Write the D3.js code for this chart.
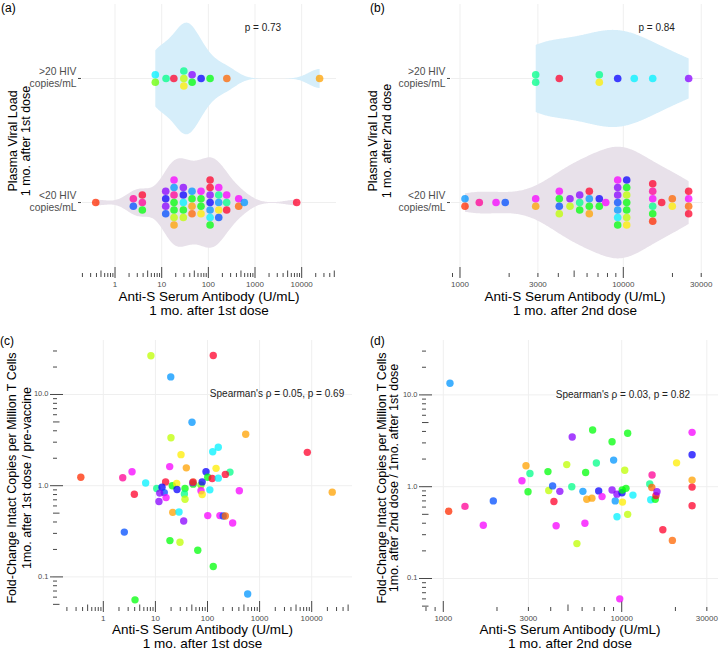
<!DOCTYPE html>
<html><head><meta charset="utf-8">
<script src="https://cdn.jsdelivr.net/npm/d3@7"></script>
<style>body{margin:0;background:#fff}svg{display:block}</style>
</head><body><svg id="chart" width="720" height="652"></svg>
<script>
// ---------- DATA ----------
const groups = [">20 HIV|copies/mL", "<20 HIV|copies/mL"];
const breaksDose1 = [1, 10, 100, 1000, 10000];
const breaksDose2 = [1000, 3000, 10000, 30000];
const breaksFold = [0.1, 1, 10];
const foldLabels = ["0.1", "1.0", "10.0"];

// participant colour codes
const hueOf = {R:350, OR:10, O:24, YO:38, Y:56, YG:75, LG:95, G:122, T:152, C:183, S:205, B:222, I:242, P:272, M:298, K:325};

// (a) antibody after 1st dose, by viral load group
const aHighVals = [7.3,7.3,12.4,18.2,29.8,29.8,29.8,44.9,44.9,70,109,249,24200];
const aHighWho  = ["C","LG","T","R","T","YG","Y","P","G","I","G","O","YO"];
const aLowVals = [0.386, 2.47,2.47, 3.85,3.85,3.85, 12.2,12.2,12.2,12.2,
  18.4,18.4,18.4,18.4,18.4,18.4,18.4, 29.1,29.1,29.1,29.1,29.1,
  44.7,44.7,44.7,44.7, 69.6,69.6,69.6,69.6, 109,109,109,109,109,109,109,
  167,167,167,167,167, 247,247,247, 447,447, 590, 7820];
const aLowWho = ["OR", "K","B", "R","K","G", "P","I","P","B",
  "M","S","K","G","G","YG","YO", "P","I","C","G","YG",
  "S","G","YO","O", "M","G","G","Y", "R","R","P","I","S","C","G",
  "M","T","S","Y","B", "M","T","R", "M","O", "S", "R"];

// (b) antibody after 2nd dose, by viral load group
const bHighVals = [2908,2908,4056,7129,7129,9240,11670,15140,25130];
const bHighWho  = ["T","T","R","T","Y","I","C","C","P"];
const bLowVals = [1073,1073, 1313, 1662, 1893, 2908,2908, 4056,4056,4056,4056,
  4716,4716, 5407,5407,5407, 6193,6193,6193,6193, 7129,7129, 7805,
  9240,9240,9240,9240,9240,9240,9240, 10490,10490,10490,10490,10490,10490,10490,
  15140,15140,15140,15140,15140,15140, 17180, 19950,19950, 25130,25130,25130,25130];
const bLowWho = ["S","OR", "K", "M", "B", "M","YO", "M","G","B","YG",
  "P","YG", "P","T","G", "R","S","G","YO", "I","G", "M",
  "M","P","P","B","S","C","G", "I","G","YG","G","G","YG","Y",
  "R","K","M","T","G","OR", "R", "O","Y", "R","M","O","R"];

// relative violin widths (widest = 1)
const violinWidthA = [1.0, 0.81];
const violinWidthB = [0.87, 1.0];

// (c) fold change vs antibody after 1st dose
const cAnti = [8.2,129,19.7,50.4,19.9,541,161,126,8240,31,18.8,39.2,3.56,93.6,146,270,220,0.37,2.36,6.5,
  15.7,3.94,10.6,13.4,14.8,12.1,11.7,16,21.1,25.6,26,37,36,37,53,52,53,75,79,75,
  79,101,123,111,161,408,24800,21.5,28.4,34.9,101,173,200,220,304,2.53,19.0,29.6,65,129,4.06,590];
const cFold = [26.6,26.8,15.6,4.96,3.36,3.66,2.64,2.36,2.32,2.19,1.62,1.57,1.42,1.42,1.55,1.41,1.33,1.24,1.22,1.07,
  1.1,0.805,0.93,0.96,0.84,0.83,0.67,0.74,1.0,1.06,0.91,0.93,0.81,0.71,1.04,1.08,1.1,1.02,1.1,0.88,
  0.8,1.24,1.2,0.9,1.21,0.88,0.85,0.51,0.515,0.41,0.47,0.47,0.465,0.465,0.39,0.31,0.25,0.24,0.196,0.13,0.056,0.065];
const cWho = ["YG","R","S","S","YG","YO","C","C","R","Y","M","YO","M","I","Y","T","R","OR","K","C",
  "R","R","T","I","B","P","P","M","G","Y","I","G","T","YG","G","P","OR","LG","I","M",
  "Y","G","R","C","C","M","YO","YO","C","P","M","M","B","O","M","B","G","YG","G","G","G","S"];

// (d) fold change vs antibody after 2nd dose
const dAnti = [1090,5280,6870,8830,10800,24800,24800,20300,9010,7210,4920,2908,3060,3860,6280,10400,14800,24800,2760,
  1072,1323,1676,1907,2985,3900,4100,4170,4500,4290,5250,5610,6060,6220,6370,6810,7430,7760,8830,9200,
  9410,9410,10040,10100,10070,10570,10800,11560,9750,14360,14750,14540,15420,15560,15760,17000,19230,24800,24800];
const dFold = [13.4,3.48,4.15,3.09,3.82,3.91,2.23,1.82,1.95,1.81,1.74,1.69,1.39,1.46,1.43,1.51,1.34,1.18,1.16,
  0.54,0.61,0.38,0.70,0.88,0.91,1.02,0.69,0.89,0.376,1.0,0.24,0.89,0.40,0.73,0.75,0.9,0.78,0.92,0.70,
  0.83,0.47,0.86,0.68,0.92,0.96,0.50,0.81,0.06,1.07,0.98,0.72,0.73,0.80,0.88,0.34,0.26,0.99,0.62];
const dWho = ["S","P","G","G","G","M","I","Y","S","T","YG","YO","T","G","G","YG","K","YO","M",
  "OR","K","M","B","G","YG","B","R","P","M","T","YG","S","M","YO","YO","I","M","P","S",
  "P","C","I","Y","G","G","YG","C","M","T","O","C","G","R","P","R","O","R","R"];

const pTextA = "p = 0.73", pTextB = "p = 0.84";
const rhoC = "Spearman's \u03c1 = 0.05, p = 0.69";
const rhoD = "Spearman's \u03c1 = 0.03, p = 0.82";

// ---------- HELPERS ----------
const FONT = '"Liberation Sans", Arial, Helvetica, sans-serif';
const GRID = "#EFEFEF", TXT = "#4D4D4D", TICK = "#333";
const svg = d3.select("#chart").style("font-family", FONT);
const colour = k => d3.hsl(hueOf[k], 1, 0.5).formatHex();

function logTickList(scale) {
  const [d0, d1] = scale.domain(), out = [];
  for (let k = Math.floor(Math.log10(d0)); k <= Math.ceil(Math.log10(d1)); k++)
    for (let m = 1; m <= 9; m++) {
      const v = m * Math.pow(10, k);
      if (v >= d0 && v <= d1) out.push({v, m});
    }
  return out;
}
const tickLen = m => m === 1 ? 10 : (m === 5 ? 6.5 : 4);

function bottomLogAxis(g, x, top, bottom, breaks) {
  g.selectAll(null).data(breaks).join("line")
    .attr("x1", d => x(d)).attr("x2", d => x(d)).attr("y1", top).attr("y2", bottom)
    .attr("stroke", GRID).attr("stroke-width", 1);
  g.selectAll(null).data(logTickList(x)).join("line")
    .attr("x1", d => x(d.v)).attr("x2", d => x(d.v))
    .attr("y1", d => bottom + (d.m === 1 ? 1 : 0)).attr("y2", d => bottom - tickLen(d.m))
    .attr("stroke", TICK).attr("stroke-width", 0.9);
  g.selectAll(null).data(breaks).join("text")
    .attr("x", d => x(d)).attr("y", bottom + 7.5)
    .attr("text-anchor", "middle").attr("dominant-baseline", "middle")
    .attr("font-size", 8).attr("fill", TXT).text(d => d);
}
function leftLogAxis(g, y, left, right, breaks, labels) {
  g.selectAll(null).data(breaks).join("line")
    .attr("y1", d => y(d)).attr("y2", d => y(d)).attr("x1", left).attr("x2", right)
    .attr("stroke", GRID).attr("stroke-width", 1);
  g.selectAll(null).data(logTickList(y)).join("line")
    .attr("y1", d => y(d.v)).attr("y2", d => y(d.v))
    .attr("x1", d => left - (d.m === 1 ? 3 : 0)).attr("x2", d => left + tickLen(d.m))
    .attr("stroke", TICK).attr("stroke-width", 0.9);
  g.selectAll(null).data(breaks).join("text")
    .attr("x", left - 4.5).attr("y", d => y(d))
    .attr("text-anchor", "end").attr("dominant-baseline", "middle")
    .attr("font-size", 7.5).attr("fill", TXT).text((d, i) => labels[i]);
}
function catAxis(g, y, left, right) {
  groups.forEach(gr => {
    const yc = y(gr);
    g.append("line").attr("x1", left).attr("x2", right).attr("y1", yc).attr("y2", yc)
      .attr("stroke", GRID).attr("stroke-width", 1);
    g.append("line").attr("x1", left - 4).attr("x2", left - 1).attr("y1", yc).attr("y2", yc)
      .attr("stroke", TICK).attr("stroke-width", 0.9);
    const parts = gr.split("|");
    parts.forEach((p, i) => g.append("text").attr("x", left - 5.5).attr("y", yc + (i - 0.5) * 12)
      .attr("text-anchor", "end").attr("dominant-baseline", "middle")
      .attr("font-size", 10.3).attr("fill", TXT).text(p));
  });
}
function xTitle(lines, cx, y0) {
  lines.forEach((t, i) => svg.append("text").attr("x", cx).attr("y", y0 + i * 14.5)
    .attr("text-anchor", "middle").attr("dominant-baseline", "middle")
    .attr("font-size", 13.5).attr("fill", "#000").text(t));
}
function yTitle(lines, xs, cy) {
  lines.forEach((t, i) => svg.append("text").attr("transform", `translate(${xs[i]},${cy}) rotate(-90)`)
    .attr("text-anchor", "middle").attr("dominant-baseline", "middle")
    .attr("font-size", 12.5).attr("fill", "#000").text(t));
}
function panelLabel(t, x, y) {
  svg.append("text").attr("x", x).attr("y", y).attr("dominant-baseline", "middle")
    .attr("font-size", 12).attr("fill", "#000").text(t);
}
function nrd0(v) {
  const s = d3.deviation(v), sorted = v.slice().sort(d3.ascending);
  const iqr = d3.quantileSorted(sorted, 0.75) - d3.quantileSorted(sorted, 0.25);
  let lo = Math.min(s, iqr / 1.34);
  if (!(lo > 0)) lo = s || 1;
  return 0.9 * lo * Math.pow(v.length, -0.2);
}
function densityCurve(vals) {
  const lv = vals.map(Math.log10), h = nrd0(lv), n = lv.length;
  const lo = d3.min(lv), hi = d3.max(lv);
  return d3.range(201).map(i => {
    const t = lo + (hi - lo) * i / 200;
    const d = d3.sum(lv, xi => Math.exp(-0.5 * ((t - xi) / h) ** 2)) / (n * h * Math.sqrt(2 * Math.PI));
    return {t, d};
  });
}
function stackDots(vals, who) {
  const m = new Map();
  vals.forEach((v, i) => { if (!m.has(v)) m.set(v, []); m.get(v).push(i); });
  const pts = [];
  m.forEach((idx, v) => idx.forEach((i, j) => pts.push({v, who: who[i], off: j - (idx.length - 1) / 2})));
  return pts;
}
function violinPanel(x, y, left, right, top, bottom, sets, fills, widths, breaks) {
  const g = svg.append("g");
  bottomLogAxis(g, x, top, bottom, breaks);
  catAxis(g, y, left, right);
  const curves = sets.map(s => densityCurve(s[0]));
  const half = 0.45 * y.step();
  curves.forEach((c, gi) => {
    const yc = y(groups[gi]);
    const maxD = d3.max(c, p => p.d);
    const w = half * widths[gi];
    const area = d3.area().x(p => x(Math.pow(10, p.t)))
      .y0(p => yc - w * p.d / maxD).y1(p => yc + w * p.d / maxD);
    g.append("path").attr("d", area(c)).attr("fill", fills[gi]);
  });
  sets.forEach((s, gi) => {
    const yc = y(groups[gi]);
    g.selectAll(null).data(stackDots(s[0], s[1])).join("circle")
      .attr("cx", d => x(d.v)).attr("cy", d => yc + d.off * 7.5).attr("r", 3.8)
      .attr("fill", d => colour(d.who)).attr("fill-opacity", 0.75);
  });
  return g;
}
function scatterPanel(x, y, left, right, top, bottom, anti, fold, who, breaks) {
  const g = svg.append("g");
  bottomLogAxis(g, x, top, bottom, breaks);
  leftLogAxis(g, y, left, right, breaksFold, foldLabels);
  g.selectAll(null).data(anti.map((a, i) => ({a, f: fold[i], w: who[i]}))).join("circle")
    .attr("cx", d => x(d.a)).attr("cy", d => y(d.f)).attr("r", 3.7)
    .attr("fill", d => colour(d.w)).attr("fill-opacity", 0.75);
  return g;
}

// ---------- PANEL (a) ----------
const xA = d3.scaleLog().domain([0.196, 54400]).range([82, 336]);
const yA = d3.scalePoint().domain(groups).range([4, 277]).padding(0.6);
const gA = violinPanel(xA, yA, 82, 336, 4, 277,
  [[aHighVals, aHighWho], [aLowVals, aLowWho]], ["#D6EEFA", "#E8E1EA"], violinWidthA, breaksDose1);
gA.append("text").attr("x", xA(1480)).attr("y", yA(groups[0]) - 0.4 * yA.step())
  .attr("text-anchor", "middle").attr("dominant-baseline", "middle").attr("font-size", 10).attr("fill", "#222").text(pTextA);
xTitle(["Anti-S Serum Antibody (U/mL)", "1 mo. after 1st dose"], (82 + 336) / 2, 297);
yTitle(["Plasma Viral Load", "1 mo. after 1st dose"], [14, 27], 141);
panelLabel("(a)", 1, 8.5);

// ---------- PANEL (b) ----------
const xB = d3.scaleLog().domain([881, 30760]).range([451, 703]);
const yB = d3.scalePoint().domain(groups).range([4, 277]).padding(0.6);
const gB = violinPanel(xB, yB, 451, 703, 4, 277,
  [[bHighVals, bHighWho], [bLowVals, bLowWho]], ["#D6EEFA", "#E8E1EA"], violinWidthB, breaksDose2);
gB.append("text").attr("x", xB(16000)).attr("y", yB(groups[0]) - 0.4 * yB.step())
  .attr("text-anchor", "middle").attr("dominant-baseline", "middle").attr("font-size", 10).attr("fill", "#222").text(pTextB);
xTitle(["Anti-S Serum Antibody (U/mL)", "1 mo. after 2nd dose"], (451 + 703) / 2 - 2, 297);
yTitle(["Plasma Viral Load", "1 mo. after 2nd dose"], [374, 387.5], 141);
panelLabel("(b)", 370, 8.5);

// ---------- PANEL (c) ----------
const xC = d3.scaleLog().domain([0.1082, 59370]).range([53, 352]);
const yC = d3.scaleLog().domain([0.04227, 39.59]).range([611, 340]);
const gC = scatterPanel(xC, yC, 53, 352, 340, 611, cAnti, cFold, cWho, breaksDose1);
gC.append("text").attr("x", xC(2160)).attr("y", yC(10))
  .attr("text-anchor", "middle").attr("dominant-baseline", "middle").attr("font-size", 10).attr("fill", "#222").text(rhoC);
xTitle(["Anti-S Serum Antibody (U/mL)", "1 mo. after 1st dose"], (53 + 352) / 2, 630);
yTitle(["Fold-Change Intact Copies per Million T Cells", "1mo. after 1st dose / pre-vaccine"], [12.5, 27.5], 478);
panelLabel("(c)", 0, 342);

// ---------- PANEL (d) ----------
const xD = d3.scaleLog().domain([759.8, 34650]).range([422, 718]);
const yD = d3.scaleLog().domain([0.04426, 39.63]).range([611, 340]);
const gD = scatterPanel(xD, yD, 422, 718, 340, 611, dAnti, dFold, dWho, breaksDose2);
gD.append("text").attr("x", xD(10160)).attr("y", yD(10))
  .attr("text-anchor", "middle").attr("dominant-baseline", "middle").attr("font-size", 10).attr("fill", "#222").text(rhoD);
xTitle(["Anti-S Serum Antibody (U/mL)", "1 mo. after 2nd dose"], (422 + 718) / 2, 630);
yTitle(["Fold-Change Intact Copies per Million T Cells", "1mo. after 2nd dose / 1mo. after 1st dose"], [382.5, 395], 478);
panelLabel("(d)", 370, 342);
</script></body></html>
